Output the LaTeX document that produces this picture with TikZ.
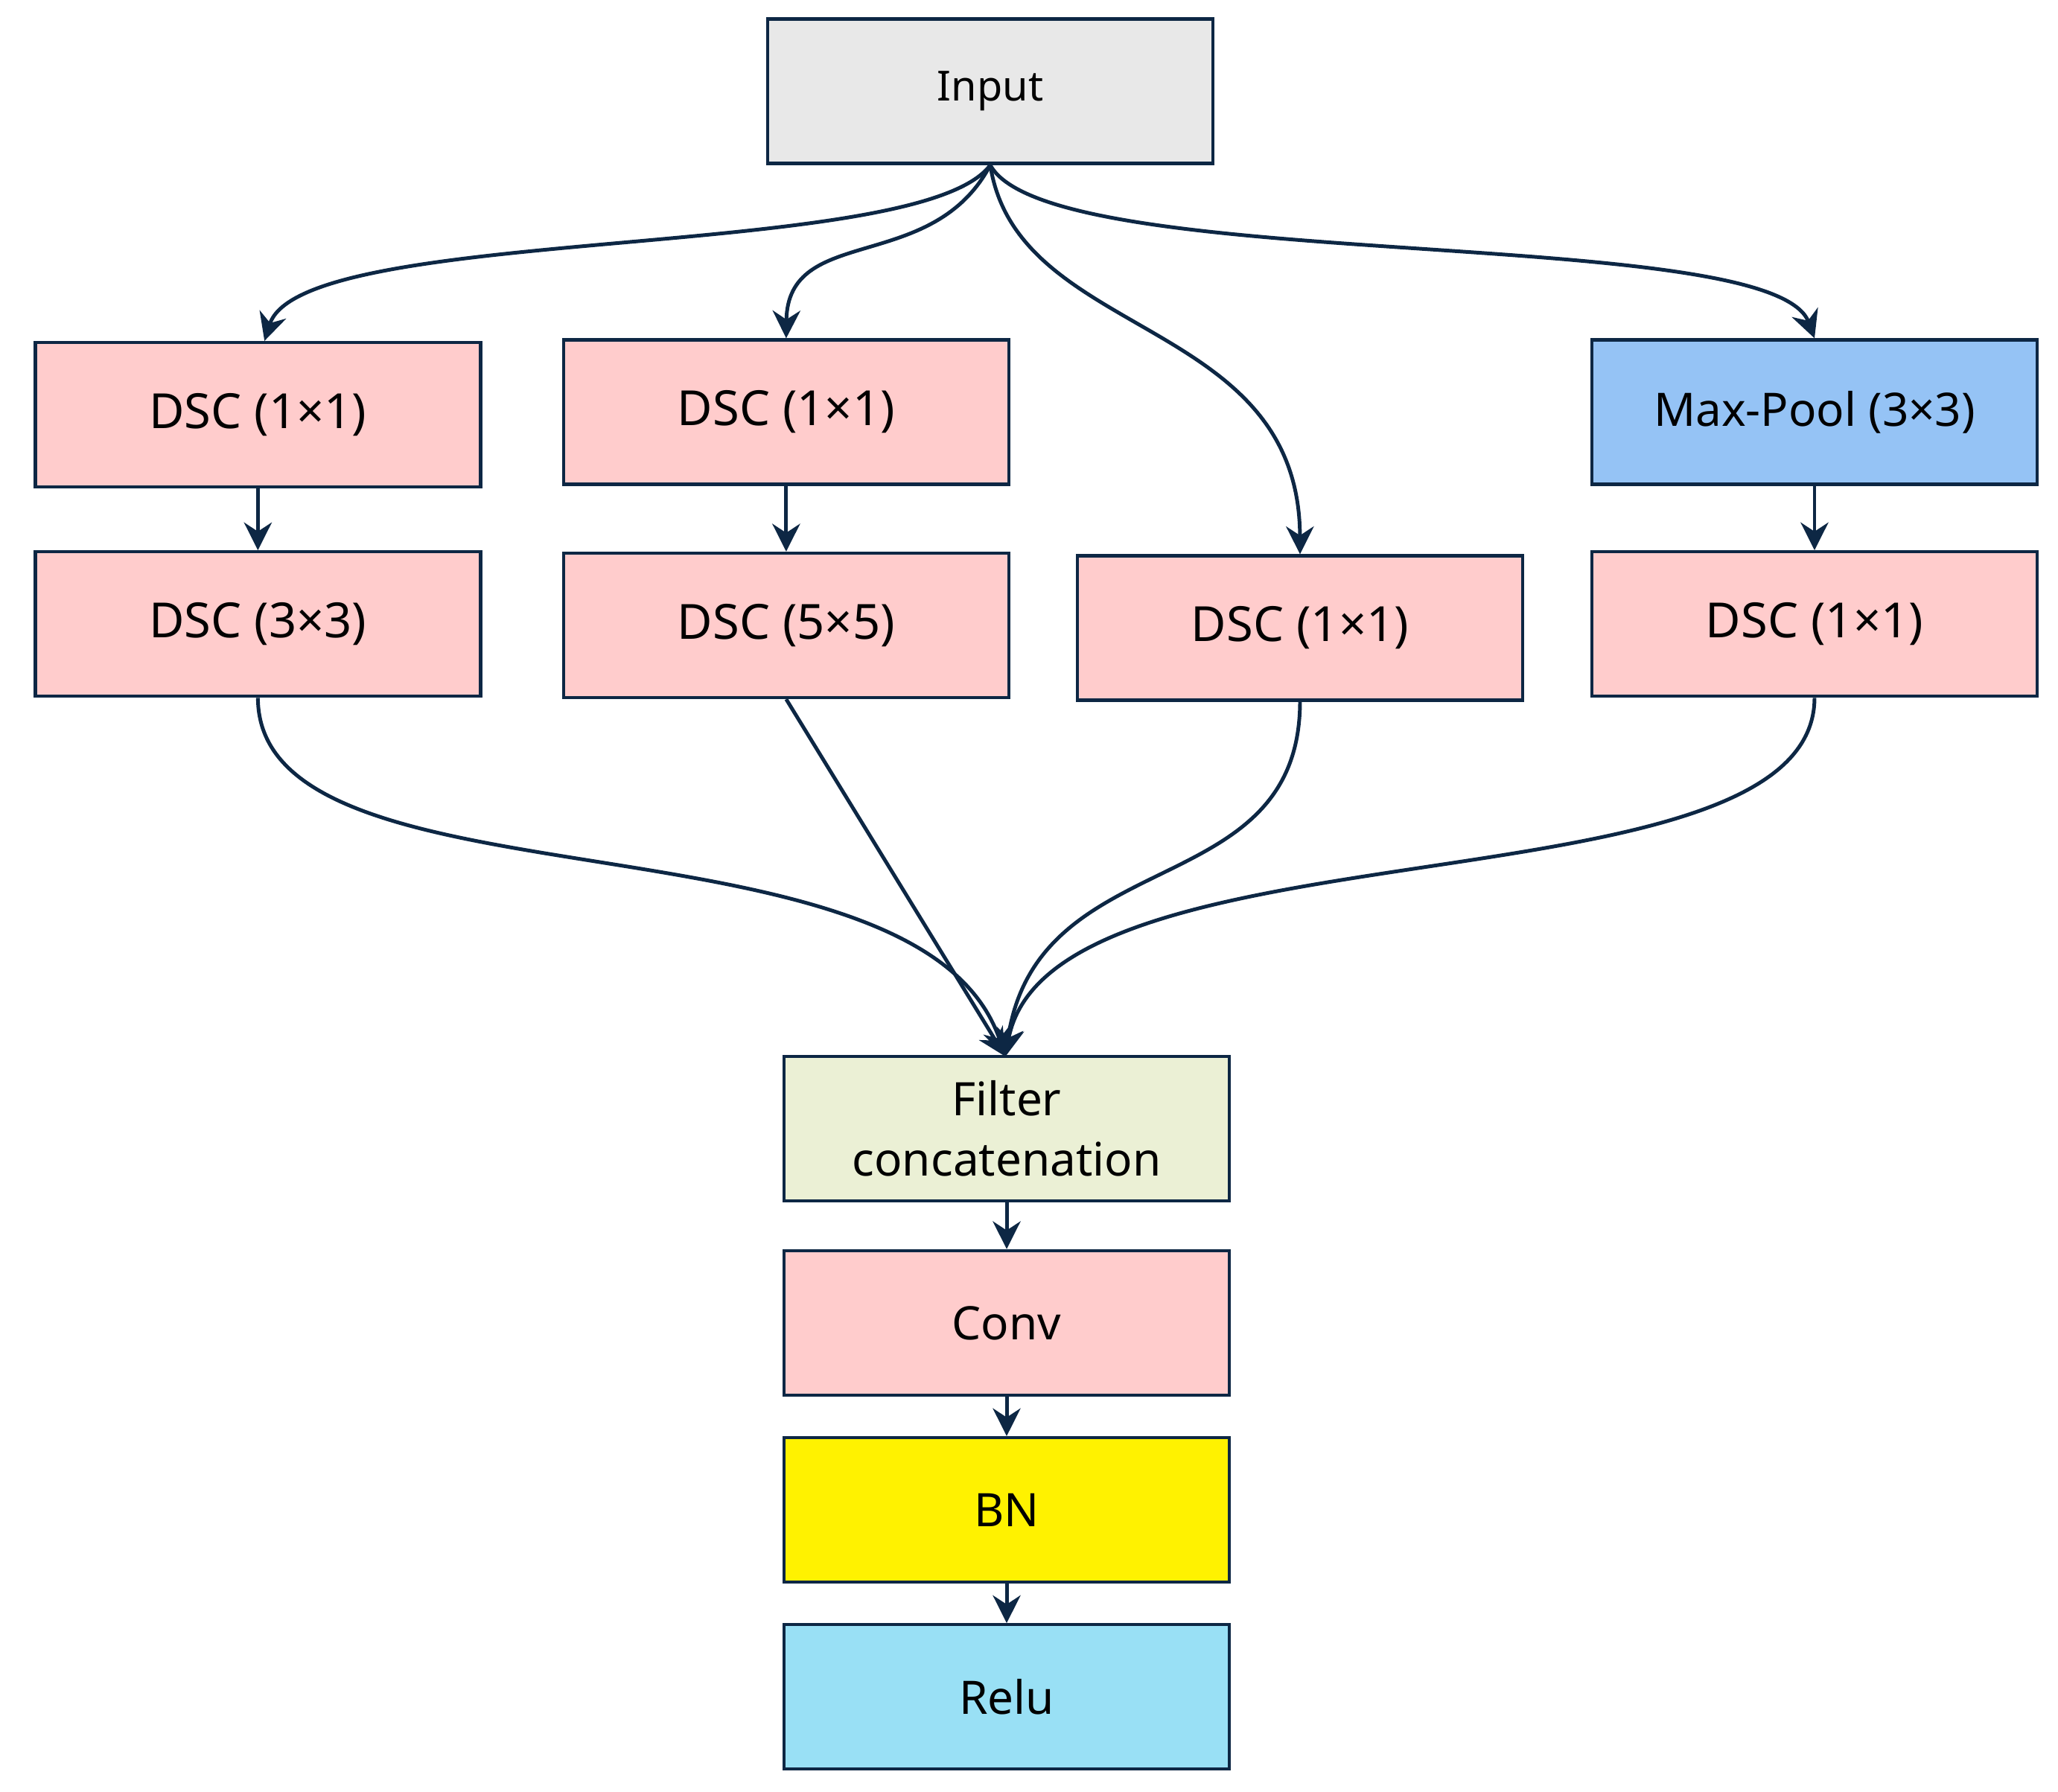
\documentclass[tikz,border=0pt]{standalone}
\usepackage{fontspec}
\setmainfont{Noto Sans}
\usetikzlibrary{arrows.meta}
\definecolor{pinkf}{HTML}{FFCCCC}
\definecolor{grayf}{HTML}{E8E8E8}
\definecolor{bluef}{HTML}{95C3F5}
\definecolor{greenf}{HTML}{EBF0D5}
\definecolor{cyanf}{HTML}{99E0F5}
\definecolor{edge}{HTML}{0D2744}
\begin{document}
\begin{tikzpicture}[x=0.01cm,y=-0.01cm,
  box/.style={draw=edge,line width=0.7pt,minimum width=3.39cm,minimum height=1.1cm,font=\fontsize{10.5}{13}\selectfont,align=center},
  sbox/.style={box,font=\fontsize{9}{12}\selectfont},
  arr/.style={draw=edge,line width=0.8pt,-{Stealth[length=6pt,width=6pt]}}]
\useasboundingbox (0,0) rectangle (1568,1365);
\node[sbox,fill=grayf] (in) at (754.5,69.5) {Input};
\node[box,fill=pinkf] (a1) at (196.5,316) {DSC (1×1)};
\node[box,fill=pinkf] (b1) at (599,314) {DSC (1×1)};
\node[sbox,fill=bluef,font=\fontsize{10}{13}\selectfont] (d1) at (1382.5,314) {Max-Pool (3×3)};
\node[box,fill=pinkf] (a2) at (196.5,475.5) {DSC (3×3)};
\node[box,fill=pinkf] (b2) at (599,476.5) {DSC (5×5)};
\node[box,fill=pinkf] (c2) at (990.5,478.5) {DSC (1×1)};
\node[box,fill=pinkf] (d2) at (1382.5,475.5) {DSC (1×1)};
\node[sbox,fill=greenf,font=\fontsize{10}{13}\selectfont] (f) at (767,860) {Filter\\concatenation};
\node[sbox,fill=pinkf,font=\fontsize{10}{13}\selectfont] (cv) at (767,1008) {Conv};
\node[sbox,fill=yellow,font=\fontsize{10}{13}\selectfont] (bn) at (767,1150.5) {BN};
\node[sbox,fill=cyanf,font=\fontsize{10}{13}\selectfont] (re) at (767,1293) {Relu};
\coordinate (fi) at (766,805);
\draw[arr] (in.south) .. controls (700,200) and (230,170) .. ([xshift=0.05cm]a1.north);
\draw[arr] (in.south) .. controls (710,210) and (600,170) .. (b1.north);
\draw[arr] (in.south) .. controls (775,260) and (990,240) .. (c2.north);
\draw[arr] (in.south) .. controls (800,210) and (1350,170) .. (d1.north);
\draw[arr] (a1) -- (a2);
\draw[arr] (b1) -- (b2);
\draw[arr] (d1) -- (d2);
\draw[arr] (a2.south) .. controls (197,700) and (700,610) .. (fi);
\draw[arr] (b2.south) -- (fi);
\draw[arr] (c2.south) .. controls (990,690) and (790,640) .. (fi);
\draw[arr] (d2.south) .. controls (1382,700) and (800,620) .. (fi);
\draw[arr] (f) -- (cv);
\draw[arr] (cv) -- (bn);
\draw[arr] (bn) -- (re);
\end{tikzpicture}
\end{document}
